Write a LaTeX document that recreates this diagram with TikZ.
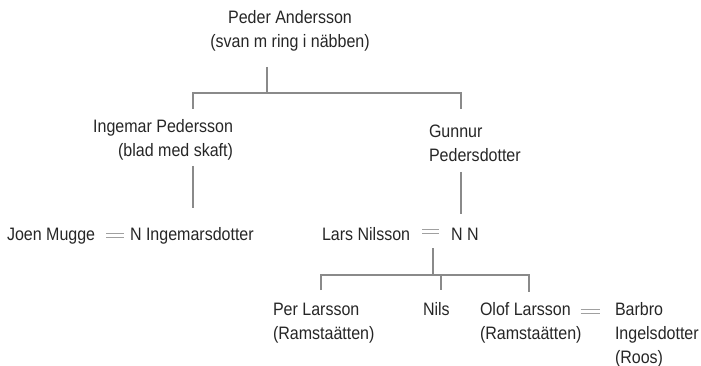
\documentclass[tikz,border=0pt]{standalone}
\usepackage{fontspec}
\setmainfont[FakeStretch=0.89]{Liberation Sans}
\definecolor{txt}{HTML}{262626}
\definecolor{ln}{HTML}{8A8A8A}
\definecolor{eq}{HTML}{A0A0A0}
\begin{document}
\begin{tikzpicture}[x=1pt,y=-1pt,
  person/.style={inner sep=0pt, outer sep=0pt, text=txt, font=\fontsize{18}{24}\selectfont},
  conn/.style={draw=ln, line width=1.1pt},
  wed/.style={draw=eq, line width=1pt}]
\useasboundingbox (0,0) rectangle (701,366);

% persons (base anchor = baseline of the last line)
\node[person, align=center, anchor=base] (peder) at (290,47.5) {Peder Andersson\\(svan m ring i näbben)};
\node[person, align=right, anchor=base east] (ingemar) at (233,157) {Ingemar Pedersson\\(blad med skaft)};
\node[person, align=left, anchor=base west] (gunnur) at (429,162) {Gunnur\\Pedersdotter};
\node[person, anchor=base west] (joen) at (7,240.5) {Joen Mugge};
\node[person, anchor=base west] (ning) at (130,240.5) {N Ingemarsdotter};
\node[person, anchor=base west] (lars) at (322,240.5) {Lars Nilsson};
\node[person, anchor=base west] (nn) at (451,240.5) {N N};
\node[person, align=left, anchor=base west] (per) at (273,339.5) {Per Larsson\\(Ramstaätten)};
\node[person, anchor=base west] (nils) at (423,315.5) {Nils};
\node[person, align=left, anchor=base west] (olof) at (480,339.5) {Olof Larsson\\(Ramstaätten)};
\node[person, align=left, anchor=base west] (barbro) at (615,363) {Barbro\\Ingelsdotter\\(Roos)};

% junction coordinates
\coordinate (pedstem) at (267,67);
\coordinate (pedbar) at (267,93);
\coordinate (barL) at (193,93);
\coordinate (barR) at (461,93);
\coordinate (ingtop) at (193,109);
\coordinate (guntop) at (461,109);
\coordinate (ingstem) at (193,166);
\coordinate (ingdown) at (193,208);
\coordinate (gunstem) at (461,172);
\coordinate (gundown) at (461,214);
\coordinate (larsstem) at (433,248);
\coordinate (larsbar) at (433,275);
\coordinate (kbarL) at (321,275);
\coordinate (kbarR) at (529,275);
\coordinate (pertop) at (321,290);
\coordinate (nilsbar) at (441,275);
\coordinate (nilstop) at (441,290);
\coordinate (oloftop) at (529,292);

% descent lines
\draw[conn] (pedstem) -- (pedbar);
\draw[conn] (ingtop) -- (barL) -- (barR) -- (guntop);
\draw[conn] (ingstem) -- (ingdown);
\draw[conn] (gunstem) -- (gundown);
\draw[conn] (larsstem) -- (larsbar);
\draw[conn] (pertop) -- (kbarL) -- (kbarR) -- (oloftop);
\draw[conn] (nilsbar) -- (nilstop);

% marriages
\foreach \dy in {-7.5,-3.5}{
  \draw[wed] ([shift={(11,\dy)}]joen.base east) -- ([shift={(-6,\dy)}]ning.base west);
}
\foreach \dy in {-11,-7.5}{
  \draw[wed] ([shift={(12,\dy)}]lars.base east) -- ([shift={(-12,\dy)}]nn.base west);
}
\foreach \dy in {-30,-26.5}{
  \draw[wed] ([shift={(-1,\dy)}]olof.base east) -- ([shift={(-15,\dy)}]barbro.base west |- olof.base east);
}
\end{tikzpicture}
\end{document}
